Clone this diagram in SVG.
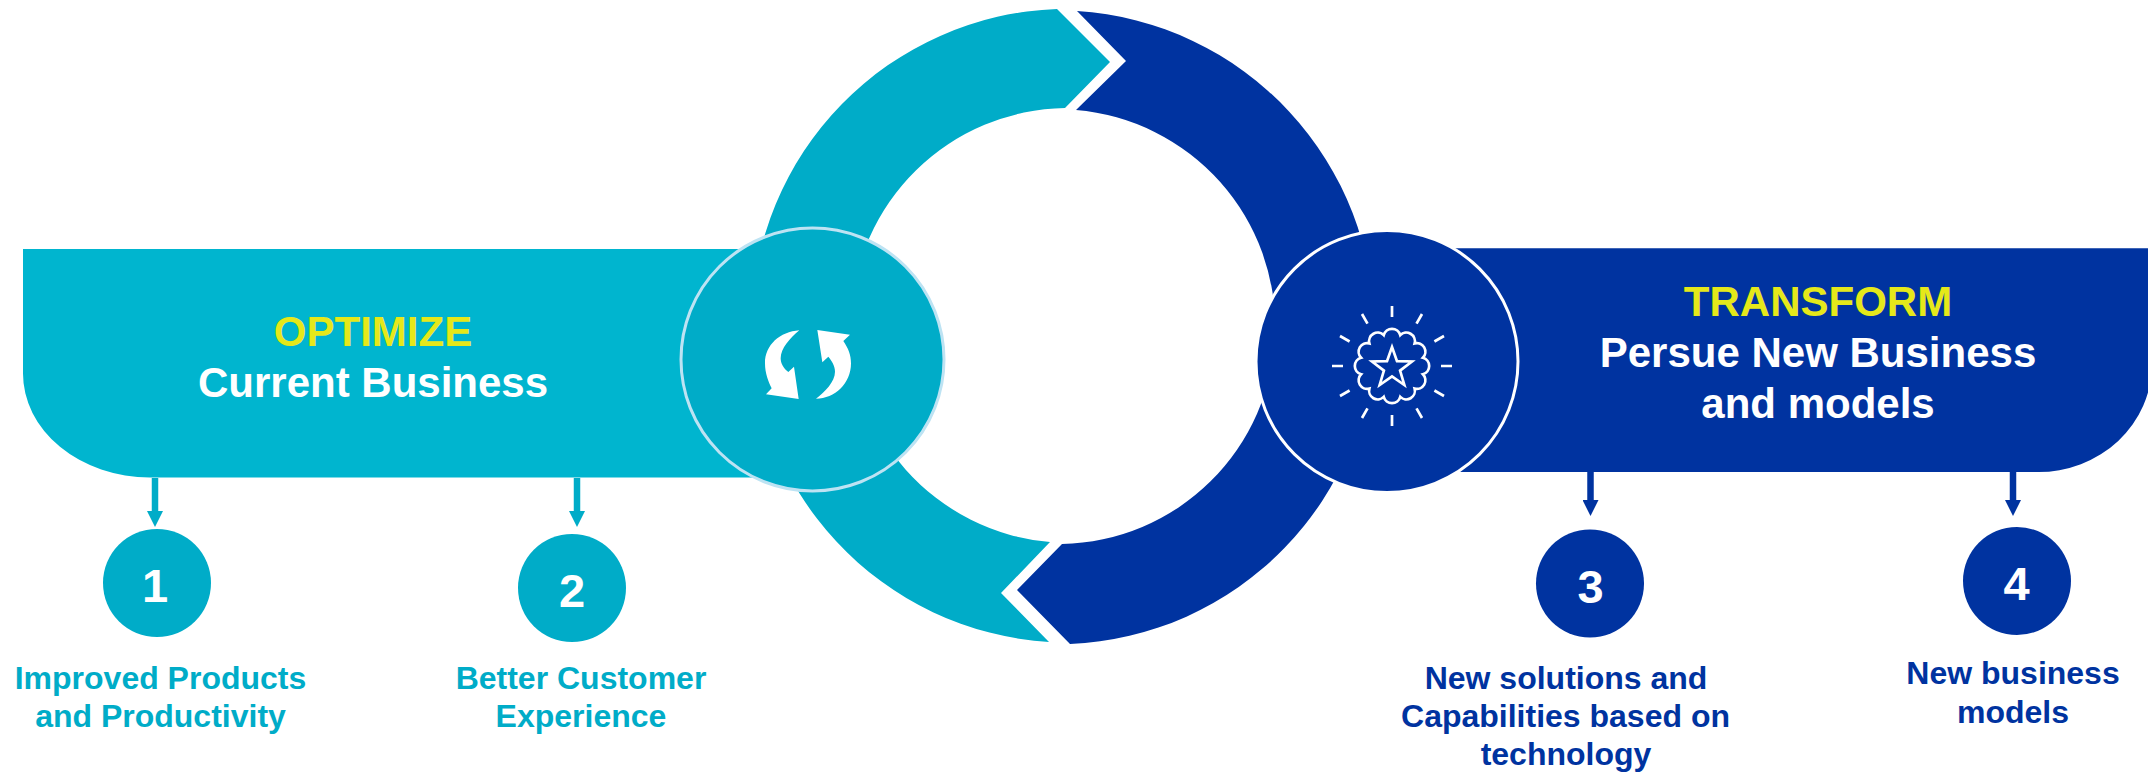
<svg xmlns="http://www.w3.org/2000/svg" width="2148" height="775" viewBox="0 0 2148 775">
<style>
text{font-family:"Liberation Sans",Arial,sans-serif;font-weight:700;text-anchor:middle}
.t{fill:#00acc8}.b{fill:#0033a0}
.head{font-size:42px;fill:#fff}.yl{font-size:42px;fill:#e5e81a}
.num{font-size:47px;fill:#fff}.lab{font-size:32px}
.ts{stroke:#00acc8}.bs{stroke:#0033a0}
</style>
<defs>
<marker id="ah-t" markerUnits="userSpaceOnUse" markerWidth="16" markerHeight="16" refX="0" refY="8" orient="auto"><path d="M0,0L16,8L0,16Z" fill="#00acc8"/></marker>
<marker id="ah-b" markerUnits="userSpaceOnUse" markerWidth="16" markerHeight="16" refX="0" refY="8" orient="auto"><path d="M0,0L16,8L0,16Z" fill="#0033a0"/></marker>
</defs>
<g id="ring">
<path class="t" d="M1057,9L1110,62L1065,108A217.4,217.4 0 0 0 1050,542L1001,593L1049,642A316.9,316.9 0 0 1 1057,9Z"/>
<path class="b" d="M1077,11L1126,61L1076,110A217.4,217.4 0 0 1 1062,544L1017,590L1070,644A316.95,316.95 0 0 0 1077,11Z"/>
</g>
<g id="connectors" fill="none" stroke-width="6.500">
<path class="ts" d="M155,478V511" marker-end="url(#ah-t)"/>
<path class="ts" d="M577,478V511" marker-end="url(#ah-t)"/>
<path class="bs" d="M1590.500,472V500" marker-end="url(#ah-b)"/>
<path class="bs" d="M2013,472V500" marker-end="url(#ah-b)"/>
</g>
<g id="optimize">
<path d="M23,249H760V477.500H150A127,104 0 0 1 23,373Z" fill="#00b5cf"/>
<circle cx="812.500" cy="359.500" r="131.500" fill="#00acc8" stroke="#bde3f3" stroke-width="3"/>
<g transform="translate(660,200) scale(.33333)" fill="#fff">
<path d="M418,391C360,395 315,435 315,490C315,520 325,545 335,565L318,583L416,597L402,500L385,516C370,505 362,490 362,475C362,445 390,415 418,391Z"/>
<path d="M472,390L570,404L550,423C565,445 573,465 573,490C573,550 525,596 468,596C495,575 525,545 525,515C525,497 515,482 505,470L487,487Z"/>
</g>
<text class="yl" x="373" y="346">OPTIMIZE</text>
<text class="head" x="373" y="397">Current Business</text>
</g>
<g id="transform">
<path d="M1400,248.300H2152V364A113.500,108 0 0 1 2037,472H1400Z" fill="#0033a0"/>
<circle cx="1387" cy="361.500" r="131" fill="#0033a0" stroke="#fff" stroke-width="3"/>
<g transform="translate(1392,366)" fill="none" stroke="#fff" stroke-width="2.700">
<path d="M0,-49V-60M24.500,-42.400L30,-52M42.400,-24.500L52,-30M49,0H60M42.400,24.500L52,30M24.500,42.400L30,52M0,49V60M-24.500,42.400L-30,52M-42.400,24.500L-52,30M-49,0H-60M-42.400,-24.500L-52,-30M-24.500,-42.400L-30,-52"/>
<path d="M8.280,-30.900A8.600,8.600 0 0 1 22.630,-22.630A8.600,8.600 0 0 1 30.900,-8.280A8.600,8.600 0 0 1 30.900,8.280A8.600,8.600 0 0 1 22.630,22.630A8.600,8.600 0 0 1 8.280,30.900A8.600,8.600 0 0 1 -8.280,30.900A8.600,8.600 0 0 1 -22.630,22.630A8.600,8.600 0 0 1 -30.900,8.280A8.600,8.600 0 0 1 -30.900,-8.280A8.600,8.600 0 0 1 -22.630,-22.630A8.600,8.600 0 0 1 -8.280,-30.900A8.600,8.600 0 0 1 8.280,-30.900Z"/>
<path transform="translate(0,2)" d="M0,-21L5,-6.880L19.970,-6.490L8.080,2.630L12.340,16.990L0,8.500L-12.340,16.990L-8.080,2.630L-19.970,-6.490L-5,-6.880Z"/>
</g>
<text class="yl" x="1818" y="316">TRANSFORM</text>
<text class="head" x="1818" y="366.500">Persue New Business</text>
<text class="head" x="1818" y="417.500">and models</text>
</g>
<g id="n1"><circle class="t" cx="157" cy="583" r="54"/><text class="num" x="155" y="602">1</text><text class="lab t" x="160.500" y="689">Improved Products</text><text class="lab t" x="160.500" y="727">and Productivity</text></g>
<g id="n2"><circle class="t" cx="572" cy="588" r="54"/><text class="num" x="572" y="606.500">2</text><text class="lab t" x="581" y="689">Better Customer</text><text class="lab t" x="581" y="727">Experience</text></g>
<g id="n3"><circle class="b" cx="1590" cy="583.500" r="54"/><text class="num" x="1590.500" y="603">3</text><text class="lab b" x="1566" y="689">New solutions and</text><text class="lab b" x="1565.500" y="727">Capabilities based on</text><text class="lab b" x="1566" y="765">technology</text></g>
<g id="n4"><circle class="b" cx="2017" cy="581" r="54"/><text class="num" x="2016.500" y="599.500">4</text><text class="lab b" x="2013" y="684">New business</text><text class="lab b" x="2013" y="723">models</text></g>
</svg>
